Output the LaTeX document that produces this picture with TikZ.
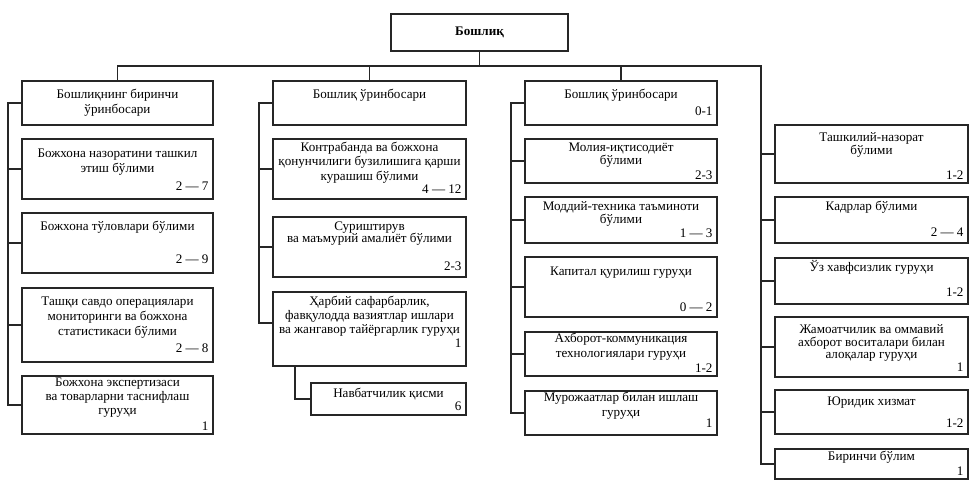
\documentclass[tikz,border=0pt]{standalone}
\usepackage{fontspec}
\setmainfont{Liberation Serif}
\newcommand\ob[5]{\node[obox, minimum width={(#4-#2)*1pt}, minimum height={(#5-#3)*1pt}] (#1) at ({(#2+#4)/2},{(#3+#5)/2}) {};}
\newcommand\ttl[4]{\node[ttext, font=\fontsize{13.1}{#3}\selectfont] (#1t) at ([shift={(0,{#2-8})}]#1.north) {\rule{0pt}{12pt}#4};}
\newcommand\nmb[3]{\node[ntext] (#1n) at ([shift={(-5,{4-#2})}]#1.south east) {#3};}
\begin{document}
\begin{tikzpicture}[x=1pt,y=-1pt,
  obox/.style={draw=black!85, line width=1.4pt, rectangle, inner sep=0pt, fill=white},
  ttext/.style={anchor=north, inner sep=0pt, align=center},
  ntext/.style={anchor=base east, inner sep=0pt, font=\fontsize{13.1}{14}\selectfont},
  conn/.style={draw=black!85, line width=1.4pt}]
\useasboundingbox (0,0) rectangle (976,486);
% top
\node[obox, minimum width=177pt, minimum height=37pt, font=\fontsize{13.1}{14}\selectfont\bfseries] (top) at (479.5,32.5) {Бошлиқ};
\coordinate (hl) at (0,66);
\coordinate (t1) at (8,0);
\coordinate (t2) at (259,0);
\coordinate (t3) at (511,0);
\coordinate (t4) at (761,0);
\coordinate (sx) at (295,0);
% column 1
\ob{a1}{22}{81}{213}{125}
\ob{a2}{22}{139}{213}{199}
\ob{a3}{22}{213}{213}{273}
\ob{a4}{22}{288}{213}{362}
\ob{a5}{22}{376}{213}{434}
\ttl{a1}{14}{15}{Бошлиқнинг биринчи\\ўринбосари}
\ttl{a2}{15}{15}{Божхона назоратини ташкил\\этиш бўлими}
\ttl{a3}{14}{15}{Божхона тўловлари бўлими}
\ttl{a4}{14}{15}{Ташқи савдо операциялари\\мониторинги ва божхона\\статистикаси бўлими}
\ttl{a5}{7}{14}{Божхона экспертизаси\\ва товарларни таснифлаш\\гуруҳи}
\nmb{a2}{13}{2 — 7}
\nmb{a3}{14}{2 — 9}
\nmb{a4}{14}{2 — 8}
\nmb{a5}{8}{1}
% column 2
\ob{b1}{273}{81}{466}{125}
\ob{b2}{273}{139}{466}{199}
\ob{b3}{273}{217}{466}{277}
\ob{b4}{273}{292}{466}{366}
\ob{bs}{311}{383}{466}{415}
\ttl{b1}{14}{15}{Бошлиқ ўринбосари}
\ttl{b2}{9}{14.5}{Контрабанда ва божхона\\қонунчилиги бузилишига қарши\\курашиш бўлими}
\ttl{b3}{10}{12.5}{Суриштирув\\ва маъмурий амалиёт бўлими}
\ttl{b4}{10}{14}{Ҳарбий сафарбарлик,\\фавқулодда вазиятлар ишлари\\ва жангавор тайёргарлик гуруҳи}
\ttl{bs}{11}{14}{Навбатчилик қисми}
\nmb{b2}{10}{4 — 12}
\nmb{b3}{11}{2-3}
\nmb{b4}{23}{1}
\nmb{bs}{9}{6}
% column 3
\ob{c1}{525}{81}{717}{125}
\ob{c2}{525}{139}{717}{183}
\ob{c3}{525}{197}{717}{243}
\ob{c4}{525}{257}{717}{317}
\ob{c5}{525}{332}{717}{376}
\ob{c6}{525}{391}{717}{435}
\ttl{c1}{14}{15}{Бошлиқ ўринбосари}
\ttl{c2}{9}{11.5}{Молия-иқтисодиёт\\бўлими}
\ttl{c3}{10}{11.5}{Моддий-техника таъминоти\\бўлими}
\ttl{c4}{15}{15}{Капитал қурилиш гуруҳи}
\ttl{c5}{7}{15}{Ахборот-коммуникация\\технологиялари гуруҳи}
\ttl{c6}{7}{15}{Мурожаатлар билан ишлаш\\гуруҳи}
\nmb{c1}{14}{0-1}
\nmb{c2}{8}{2-3}
\nmb{c3}{10}{1 — 3}
\nmb{c4}{10}{0 — 2}
\nmb{c5}{8}{1-2}
\nmb{c6}{12}{1}
% column 4
\ob{d1}{775}{125}{968}{183}
\ob{d2}{775}{197}{968}{243}
\ob{d3}{775}{258}{968}{304}
\ob{d4}{775}{317}{968}{377}
\ob{d5}{775}{390}{968}{434}
\ob{d6}{775}{449}{968}{479}
\ttl{d1}{13}{12}{Ташкилий-назорат\\бўлими}
\ttl{d2}{10}{14}{Кадрлар бўлими}
\ttl{d3}{10}{14}{Ўз хавфсизлик гуруҳи}
\ttl{d4}{13}{12.5}{Жамоатчилик ва оммавий\\ахборот воситалари билан\\алоқалар гуруҳи}
\ttl{d5}{12}{14}{Юридик хизмат}
\ttl{d6}{8}{14}{Биринчи бўлим}
\nmb{d1}{8}{1-2}
\nmb{d2}{11}{2 — 4}
\nmb{d3}{12}{1-2}
\nmb{d4}{10}{1}
\nmb{d5}{11}{1-2}
\nmb{d6}{8}{1}
% connectors
\draw[conn] (top.south) -- (top.south |- hl);
\draw[conn] (a1.north) -- (a1.north |- hl) -- (hl -| t4) -- (t4 |- d6.west) -- (d6.west);
\draw[conn] (b1.north) -- (b1.north |- hl);
\draw[conn] (c1.north) -- (c1.north |- hl);
\draw[conn] (a1.west) -- (a1.west -| t1) -- (a5.west -| t1) -- (a5.west);
\foreach \n in {a2,a3,a4} \draw[conn] (\n.west -| t1) -- (\n.west);
\coordinate (b4c) at ([yshift=6pt]b4.west);
\draw[conn] (b1.west) -- (b1.west -| t2) -- (b4c -| t2) -- (b4c);
\foreach \n in {b2,b3} \draw[conn] (\n.west -| t2) -- (\n.west);
\draw[conn] (b4.south -| sx) -- (sx |- bs.west) -- (bs.west);
\draw[conn] (c1.west) -- (c1.west -| t3) -- (c6.west -| t3) -- (c6.west);
\foreach \n in {c2,c3,c4,c5} \draw[conn] (\n.west -| t3) -- (\n.west);
\foreach \n in {d1,d2,d3,d4,d5} \draw[conn] (\n.west -| t4) -- (\n.west);
\end{tikzpicture}
\end{document}
